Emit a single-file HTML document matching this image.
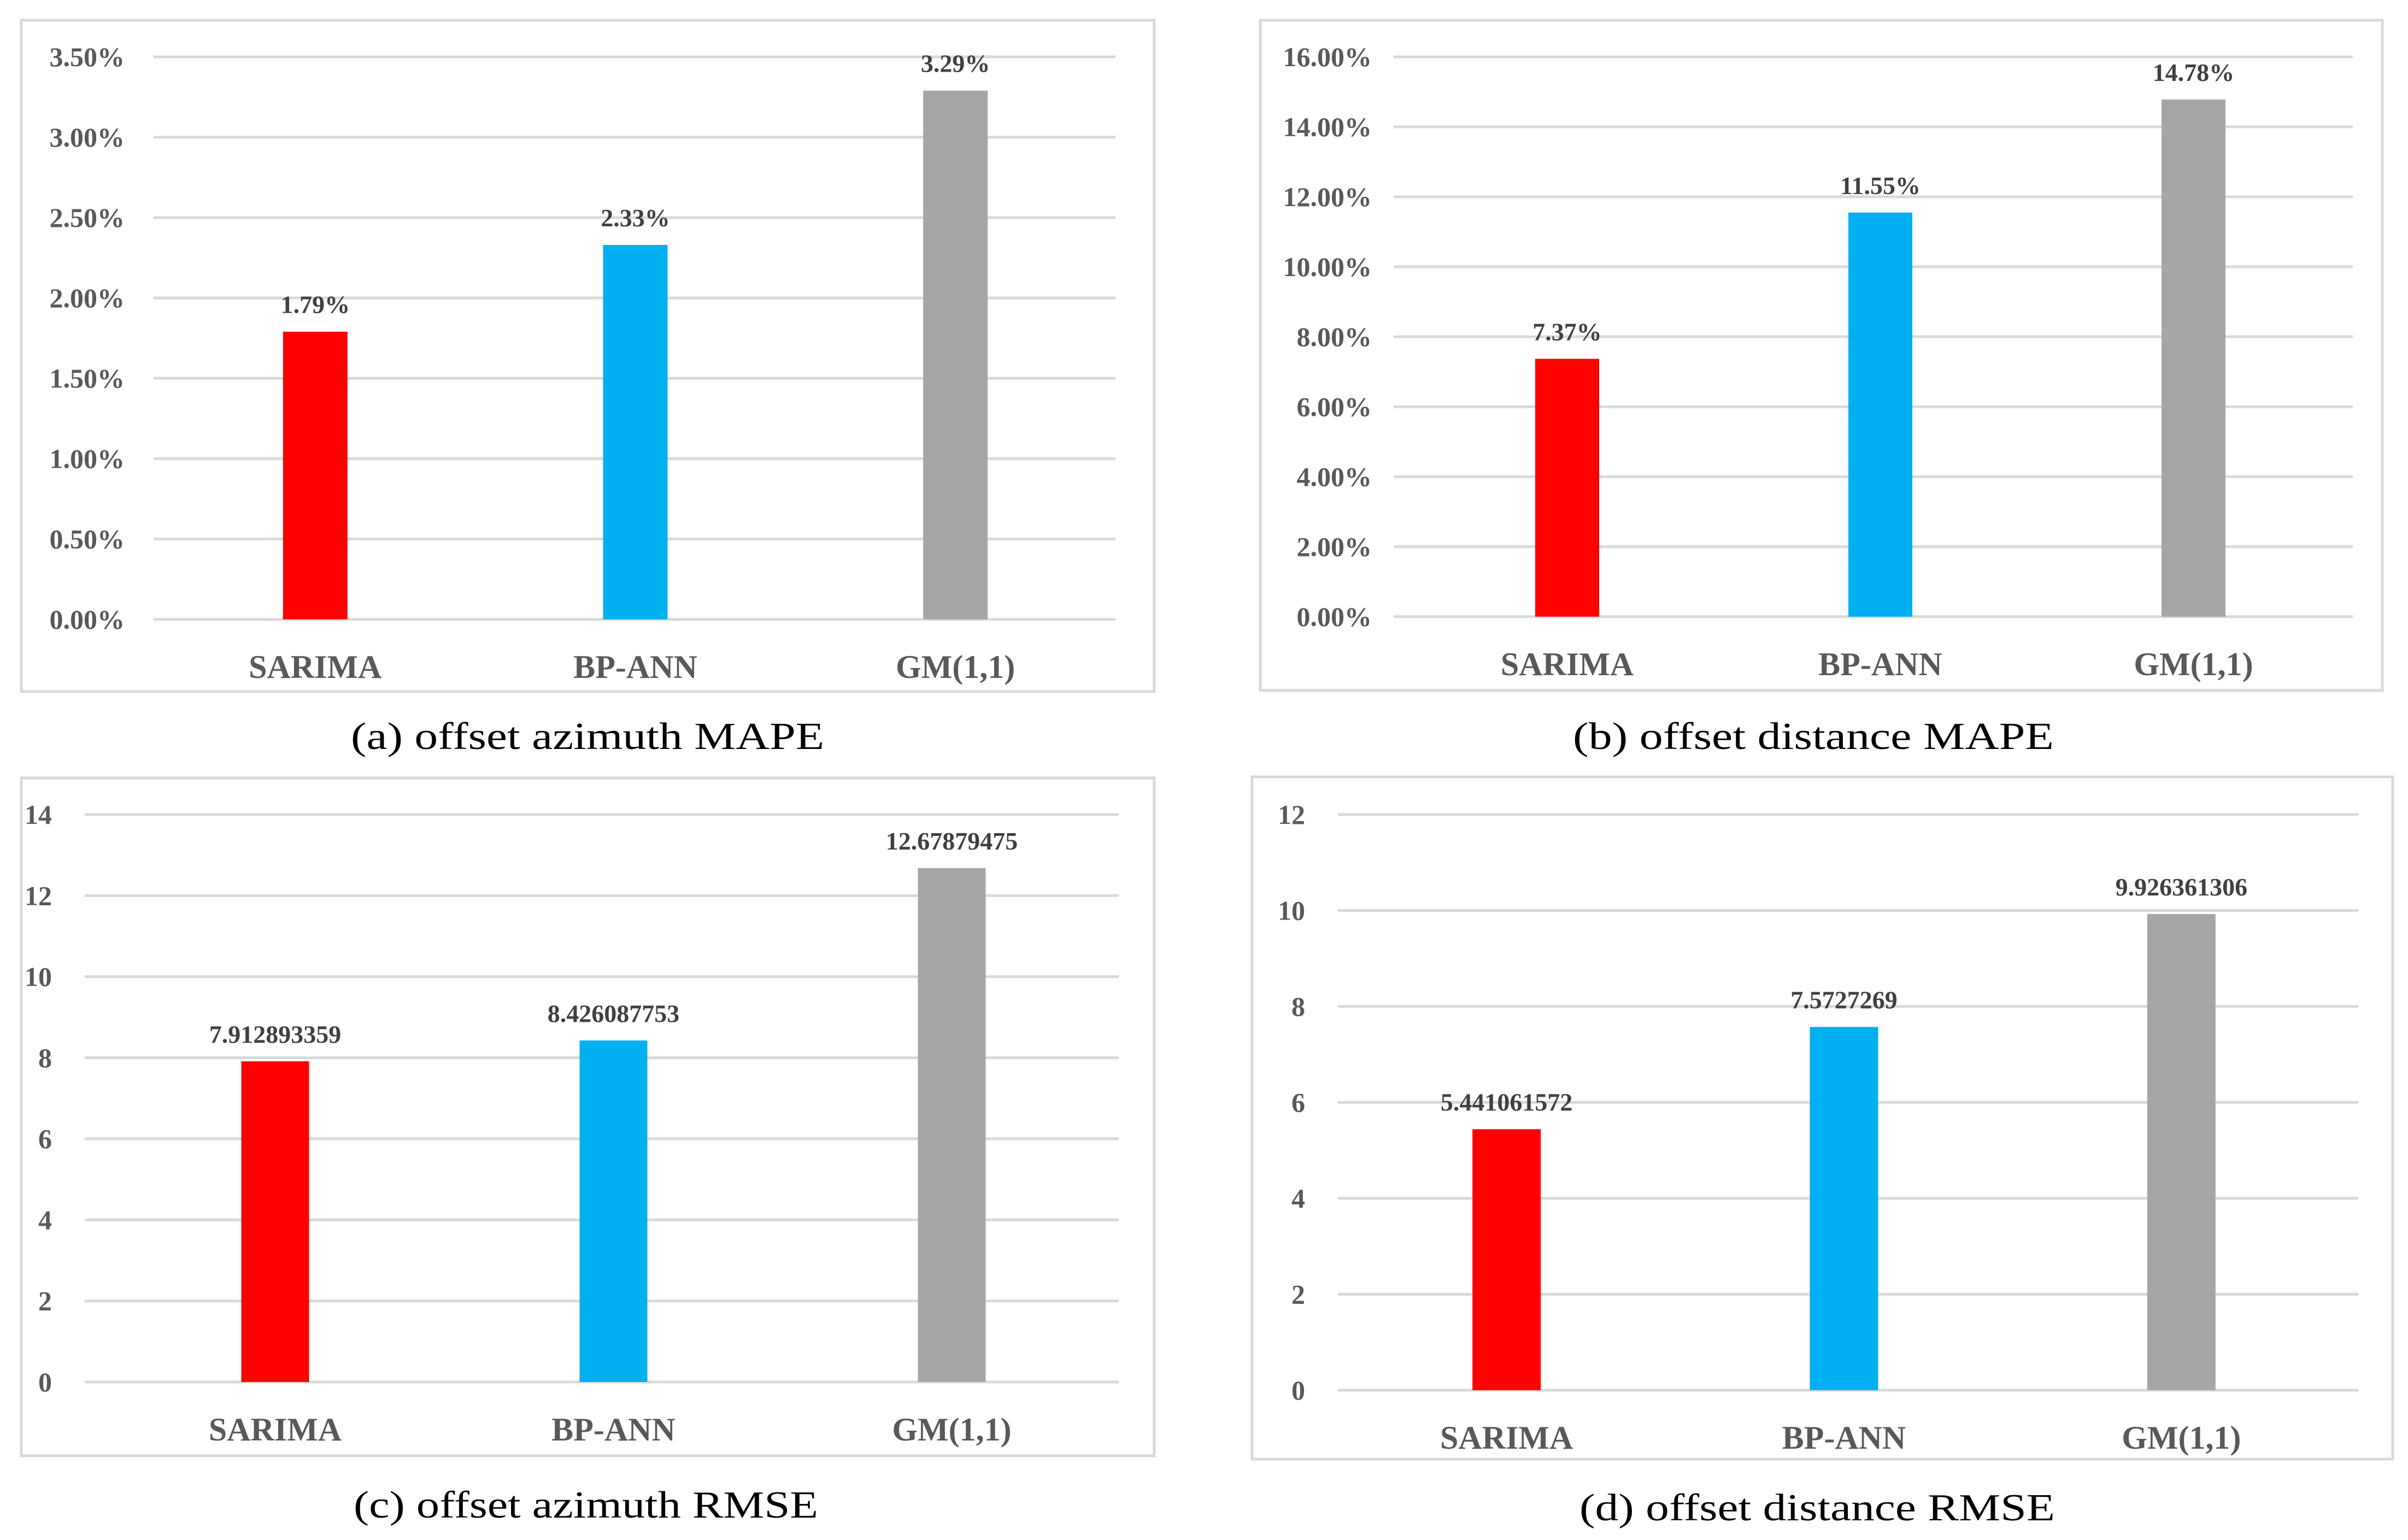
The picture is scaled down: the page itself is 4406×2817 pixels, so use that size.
<!DOCTYPE html>
<html><head><meta charset="utf-8"><style>
html,body{margin:0;padding:0;background:#fff;}
svg{display:block;}
</style></head><body>
<svg id="fig" width="4406" height="2817" viewBox="0 0 4406 2817" xmlns="http://www.w3.org/2000/svg"></svg>
<script>
const categories = ["SARIMA", "BP-ANN", "GM(1,1)"];
const colors = ["#ff0000", "#00b0f0", "#a6a6a6"];
const valuesA = [1.79, 2.33, 3.29];
const labelsA = ["1.79%", "2.33%", "3.29%"];
const ticksA = ["0.00%","0.50%","1.00%","1.50%","2.00%","2.50%","3.00%","3.50%"];
const valuesB = [7.37, 11.55, 14.78];
const labelsB = ["7.37%", "11.55%", "14.78%"];
const ticksB = ["0.00%","2.00%","4.00%","6.00%","8.00%","10.00%","12.00%","14.00%","16.00%"];
const valuesC = [7.912893359, 8.426087753, 12.67879475];
const labelsC = ["7.912893359", "8.426087753", "12.67879475"];
const ticksC = ["0","2","4","6","8","10","12","14"];
const valuesD = [5.441061572, 7.5727269, 9.926361306];
const labelsD = ["5.441061572", "7.5727269", "9.926361306"];
const ticksD = ["0","2","4","6","8","10","12"];

const NS = "http://www.w3.org/2000/svg";
const svg = document.getElementById("fig");
function mk(tag, attrs, parent){ const e=document.createElementNS(NS,tag); for(const k in attrs) e.setAttribute(k,attrs[k]); (parent||svg).appendChild(e); return e; }

const panels = [
 {id:"a", vals:valuesA, labs:labelsA, ticks:ticksA, max:3.5, box:[39,37,2112,1265], y0:1133, yTop:104, x0:284, x1:2041, gx0:281, gx1:2041, barW:118, tickOff:53, caption:"(a) offset azimuth MAPE", capX:1075, capY:1370, capW:866},
 {id:"b", vals:valuesB, labs:labelsB, ticks:ticksB, max:16, box:[2306,37,4359,1263], y0:1128, yTop:104, x0:2581, x1:4300, gx0:2550, gx1:4305, barW:117, tickOff:40, caption:"(b) offset distance MAPE", capX:3318, capY:1370, capW:880},
 {id:"c", vals:valuesC, labs:labelsC, ticks:ticksC, max:14, box:[39,1423,2112,2663], y0:2528, yTop:1490, x0:194, x1:2051, gx0:155, gx1:2047, barW:124, tickOff:60, caption:"(c) offset azimuth RMSE", capX:1072, capY:2776, capW:850},
 {id:"d", vals:valuesD, labs:labelsD, ticks:ticksD, max:12, box:[2291,1421,4378,2669], y0:2543, yTop:1490, x0:2448, x1:4300, gx0:2448, gx1:4315, barW:125, tickOff:60, caption:"(d) offset distance RMSE", capX:3325, capY:2781, capW:870}
];

panels.forEach(p=>{
  const g = mk("g",{});
  
  
  const [bx0,by0,bx1,by1]=p.box;
  const frame = mk("rect",{x:bx0,y:by0,width:bx1-bx0,height:by1-by0,fill:"#fff",stroke:"#d9d9d9","stroke-width":5},g);
  
  
  const yScale = v => p.y0 - (v/p.max)*(p.y0-p.yTop);
  const n = p.ticks.length;
  p.ticks.forEach((t,i)=>{
    const v = p.max*i/(n-1);
    const y = yScale(v);
    const gl = mk("line",{x1:p.gx0,x2:p.gx1,y1:y,y2:y,stroke:"#d9d9d9","stroke-width":5},g);
    
    
    const tl = mk("text",{x:p.gx0-p.tickOff,y:y+17,"text-anchor":"end","font-family":"Liberation Serif, serif","font-weight":"bold","font-size":50,fill:"#595959"},g);
    tl.textContent = t;
    
    
  });
  const band = (p.x1-p.x0)/categories.length;
  categories.forEach((c,i)=>{
    const cx = p.x0 + band*(i+0.5);
    const yv = yScale(p.vals[i]);
    const bar = mk("rect",{x:cx-p.barW/2,y:yv,width:p.barW,height:p.y0-yv,fill:colors[i]},g);
    
    
    const vl = mk("text",{x:cx,y:yv-34,"text-anchor":"middle","font-family":"Liberation Serif, serif","font-weight":"bold","font-size":46,fill:"#404040"},g);
    vl.textContent = p.labs[i];
    
    
    const cl = mk("text",{x:cx,y:p.y0+107,"text-anchor":"middle","font-family":"Liberation Serif, serif","font-weight":"bold","font-size":60,fill:"#595959"},g);
    cl.textContent = c;
    
    
  });
  const cap = mk("text",{x:p.capX,y:p.capY,"text-anchor":"middle","font-family":"Liberation Serif, serif","font-size":70,fill:"#000",textLength:p.capW,lengthAdjust:"spacingAndGlyphs"});
  cap.textContent = p.caption;
  
  
});
</script>
</body></html>
